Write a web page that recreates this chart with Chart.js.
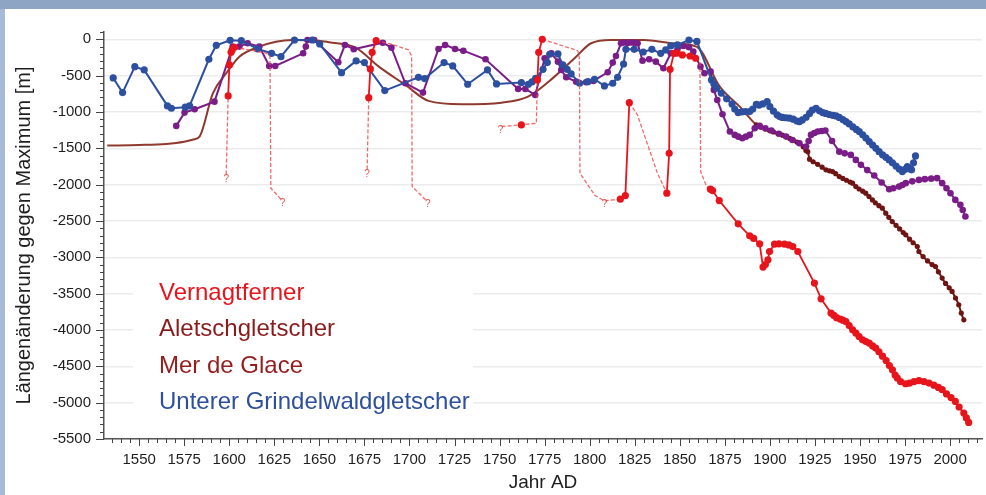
<!DOCTYPE html>
<html>
<head>
<meta charset="utf-8">
<script src="https://cdn.jsdelivr.net/npm/chart.js@4.4.0/dist/chart.umd.min.js"></script>
<style>
html, body { margin: 0; padding: 0; background: #8fa5c4; }
#frame { position: absolute; left: 0; top: 0; width: 986px; height: 495px; overflow: hidden; }
#strip { position: absolute; left: 0; top: 9px; width: 5px; bottom: 0; background: #a9bad8; }
#panel { position: absolute; left: 5px; top: 9px; right: 0; bottom: 0; background: #fff; }
canvas { position: absolute; left: 0; top: 0; }
</style>
</head>
<body>
<div id="frame"><div id="strip"></div><div id="panel"></div><canvas id="chart" width="986" height="495"></canvas></div>
<script>
// Vernagtferner, measured (null = break between advances)
const vernagtYears = [1599.4, 1600.1, 1601.0, 1601.6, 1602.9, null,
  1677.4, 1678.3, 1679.3, 1681.5, null,
  1762.1, null,
  1771.0, 1771.7, 1773.7, null,
  1817.0, 1819.8, 1822.0, null,
  1842.8, 1844.1, 1844.6, 1846.8, 1848.5, 1851.4, 1855.7, 1858.8, null,
  1867.0, 1868.2, 1871.9, 1882.4, 1888.8, 1891.0, 1894.3, 1896.2, 1897.5, 1898.9, 1899.8,
  1902.6, 1905.0, 1908.1, 1910.5, 1912.7, 1915.5, 1924.7, 1928.4, 1933.9, 1935.5, 1937.0,
  1939.0, 1940.5, 1942.2, 1944.0, 1945.9, 1947.7, 1949.5, 1951.4, 1953.3, 1955.1, 1957.0,
  1958.7, 1960.5, 1962.5, 1964.5, 1966.3, 1968.0, 1969.5, 1970.7, 1972.5, 1975.3, 1977.5,
  1980.0, 1982.7, 1985.5, 1988.3, 1991.0, 1993.5, 1995.6, 1998.0, 2000.5, 2002.9, 2005.0,
  2007.6, 2009.0, 2010.3];
const vernagtValues = [-780, -353, -180, -147, -110, null,
  -803, -408, -179, -19, null,
  -1178, null,
  -560, -179, 0, null,
  -2200, -2150, -872, null,
  -2118, -1568, -413, -193, -190, -216, -230, -261, null,
  -2063, -2082, -2219, -2540, -2705, -2740, -2815, -3135, -3100, -3035, -2920,
  -2819, -2815, -2819, -2830, -2852, -2920, -3355, -3571, -3768, -3800, -3830,
  -3850, -3865, -3883, -3940, -3997, -4043, -4090, -4135, -4160, -4180, -4220,
  -4249, -4300, -4360, -4420, -4490, -4547, -4620, -4661, -4710, -4740, -4730,
  -4710, -4698, -4710, -4731, -4760, -4790, -4822, -4880, -4930, -4983, -5060,
  -5143, -5210, -5272];

// Vernagtferner, uncertain course (dashed)
const vernagtGuessYears = [1598.3, 1599.4, null,
  1602.9, 1612.0, 1620.4, 1622.6, 1623.1, 1629.0, null,
  1676.5, 1677.4, null,
  1681.5, 1690.3, 1699.5, 1701.2, 1701.5, 1709.6, null,
  1751.1, 1762.1, 1770.4, 1771.0, null,
  1773.7, 1793.4, 1794.3, 1794.6, 1803.0, 1808.2, 1817.0, null,
  1822.0, 1826.5, 1837.6, 1842.8, null,
  1858.8, 1861.2, 1861.6, 1864.9, 1867.0];
const vernagtGuessValues = [-1860, -780, null,
  -110, -150, -190, -230, -2049, -2209, null,
  -1790, -803, null,
  -19, -69, -147, -230, -2027, -2223, null,
  -1201, -1178, -1155, -560, null,
  0, -157, -260, -1843, -2150, -2223, -2200, null,
  -872, -1041, -1843, -2118, null,
  -261, -300, -1820, -2027, -2063];
const questionYears = [1598.3, 1629.6, 1676.5, 1710.2, 1750.6, 1808.2];
const questionValues = [-1890, -2215, -1815, -2228, -1205, -2228];

// Aletschgletscher
const aletschYears = [1532.3, 1550, 1565, 1575, 1580, 1583.5, 1590.9, 1598.3, 1605.6, 1616.7,
  1625.9, 1635, 1649.8, 1655.3, 1670.1, 1683, 1697.7, 1710.6, 1729, 1751.1, 1765.8, 1780.5,
  1791.6, 1800.8, 1811.8, 1830.3, 1846.5, 1859.3, 1872.2, 1883.3, 1892.5,
  1895, 1897.5, 1899.8, 1902, 1904.5, 1907, 1909, 1911, 1913, 1915, 1916.4, 1918.5, 1920,
  1921, 1922, 1924, 1926.5, 1929, 1931.1, 1933, 1934.8, 1936.5, 1938.5, 1940.5, 1942.5,
  1944.5, 1945.9, 1947.7, 1949.5, 1951.5, 1953.2, 1955, 1956.9, 1958.5, 1960.5, 1962.4,
  1964.3, 1966, 1967.9, 1970, 1972, 1974, 1975.4, 1977.5, 1979.5, 1981.8, 1982.7, 1985,
  1987.5, 1990, 1991.9, 1993.5, 1995.6, 1997.5, 1999.5, 2001.1, 2003, 2004.8, 2006.2, 2007.6];
const aletschValues = [-1463, -1455, -1440, -1410, -1380, -1339, -743, -468, -239, -101,
  -33, -10, -19, -41, -115, -377, -628, -848, -894, -872, -789, -514,
  -261, -55, -10, -10, -55, -101, -652, -927, -1178,
  -1210, -1235, -1256, -1275, -1300, -1320, -1339, -1365, -1390, -1415, -1430, -1480, -1530,
  -1546, -1650, -1685, -1720, -1760, -1797, -1810, -1821, -1850, -1889, -1915, -1940,
  -1965, -1980, -2027, -2060, -2090, -2118, -2165, -2210, -2250, -2290, -2324,
  -2393, -2450, -2508, -2560, -2610, -2660, -2691, -2750, -2800, -2852, -2920, -2990,
  -3050, -3100, -3127, -3200, -3286, -3360, -3420, -3470, -3560, -3653, -3768, -3860];

// Mer de Glace
const merYears = [1570.6, 1575.2, 1580.8, 1591.8, 1601.9, 1605.6, 1610.2, 1616.7, 1622.2, 1625.5,
  1641, 1642.5, 1643.4, 1647.1, 1660.5, 1664.2, 1669.1, 1685.2, 1690, 1697.7, 1707.5, 1716.1,
  1719.8, 1725.3, 1729.9, 1742.2, 1760.3, 1764.3, 1769.8, 1775, 1778.7, 1782.4, 1784.2, 1787,
  1792.5, 1798, 1802.1, 1810, 1812.8, 1814.6, 1817.4, 1819, 1821, 1823, 1825, 1826.6, 1829.3,
  1833, 1836.7, 1840.9, 1845, 1848.7, 1852, 1855.1, 1857.5, 1861.5, 1863.7, 1867.1, 1868.9,
  1870.8, 1873.7, 1877.8, 1880.5, 1882.5, 1884.7, 1886.7, 1888.8, 1891.6, 1894.3, 1897.5,
  1900.8, 1905, 1909, 1912.5, 1916.4, 1920.1, 1921.5, 1922.8, 1924.7, 1926.6, 1928.7, 1930.8,
  1934.5, 1938.5, 1941.5, 1944.9, 1947.7, 1950.5, 1954, 1957.9, 1962, 1966.2, 1968.5, 1971.7,
  1973.5, 1975.4, 1979, 1982.7, 1986, 1989.5, 1992.8, 1995.6, 1998, 2000.2, 2002.9, 2005.7,
  2007, 2008.5];
const merValues = [-1192, -1009, -963, -858, -101, -101, -55, -101, -367, -367,
  -193, -101, -10, -10, -316, -78, -138, -47, -115, -605, -734, -133,
  -78, -133, -157, -275, -683, -683, -766, -261, -193, -308, -422, -523,
  -583, -591, -573, -454, -321, -230, -55, -45, -50, -45, -50, -55, -294,
  -275, -308, -399, -193, -138, -92, -110, -170, -377, -468, -445, -697,
  -835, -1031, -1270, -1316, -1340, -1361, -1340, -1316, -1224, -1192, -1225,
  -1256, -1300, -1339, -1385, -1430, -1476, -1400, -1316, -1290, -1270, -1262, -1256,
  -1400, -1546, -1570, -1591, -1660, -1728, -1800, -1875, -1970, -2063, -2050, -2027,
  -2005, -1980, -1955, -1935, -1925, -1918, -1911, -1980, -2050, -2118, -2210, -2278,
  -2350, -2439];

// Unterer Grindelwaldgletscher
const grindelwaldYears = [1535.6, 1540.8, 1547.6, 1552.8, 1565.7, 1567.9, 1575.6, 1578, 1588.7,
  1592.8, 1600.5, 1606.7, 1615.7, 1623.5, 1628.7, 1636.2, 1646.1, 1650.2, 1662.3, 1670.4, 1675,
  1686.3, 1705, 1708.4, 1719.2, 1724, 1732.3, 1743.3, 1748.3, 1762.1, 1766, 1768, 1770, 1774.1,
  1776.5, 1777.8, 1782.4, 1785.1, 1787.5, 1789.7, 1794.4, 1799, 1802.7, 1808.2, 1812.8, 1815.5,
  1818.8, 1820.1, 1824.7, 1829.7, 1834.5, 1839.4, 1842.2, 1845, 1848.7, 1855.1, 1859.5,
  1867.6, 1869, 1870.4, 1873, 1876, 1879, 1880.5, 1882.4, 1884.5, 1886.5, 1888.8, 1890.5,
  1892.5, 1894, 1896, 1898.5, 1900, 1902, 1904, 1905.4, 1907, 1909, 1910.9, 1913, 1915,
  1916.4, 1918, 1920.1, 1922, 1923.5, 1925.6, 1927.5, 1929.3, 1931, 1933, 1935, 1936.7,
  1938.5, 1940.5, 1942.2, 1944, 1946, 1948, 1949.6, 1951.5, 1953.3, 1955.1, 1957, 1958.8,
  1960.6, 1962.5, 1964.4, 1966.2, 1968, 1970, 1971.8, 1973.5, 1975, 1976.3, 1977.5, 1978.6,
  1979.7, 1980.8];
const grindelwaldValues = [-532, -734, -377, -422, -917, -949, -935, -917, -275,
  -83, -14, -19, -133, -193, -239, -10, -10, -65, -459, -298, -321,
  -706, -523, -541, -321, -367, -619, -422, -614, -596, -619, -587, -537, -413,
  -321, -206, -202, -353, -413, -477, -605, -583, -550, -642, -605, -523,
  -340, -138, -138, -175, -138, -193, -147, -92, -78, -10, -30,
  -560, -620, -674, -740, -820, -890, -960, -1009, -1000, -995, -995, -960,
  -894, -905, -890, -858, -927, -990, -1040, -1064, -1075, -1080, -1086, -1100, -1125,
  -1133, -1110, -1073, -1020, -975, -949, -985, -1009, -1020, -1035, -1048, -1055,
  -1075, -1105, -1133, -1165, -1205, -1240, -1270, -1315, -1360, -1408, -1455, -1500,
  -1546, -1590, -1625, -1660, -1700, -1745, -1785, -1821, -1790, -1752, -1780, -1797,
  -1700, -1605];

const legendLabels = ["Vernagtferner", "Aletschgletscher", "Mer de Glace", "Unterer Grindelwaldgletscher"];
const legendColors = ["#e8141c", "#8b1a1a", "#951c1c", "#2d4f9f"];
const xTicks = [1550, 1575, 1600, 1625, 1650, 1675, 1700, 1725, 1750, 1775, 1800, 1825, 1850, 1875, 1900, 1925, 1950, 1975, 2000];
const yTicks = [0, -500, -1000, -1500, -2000, -2500, -3000, -3500, -4000, -4500, -5000, -5500];

function pairs(xs, ys) {
    return xs.map((x, i) => ({ x: x === null ? xs[i - 1] : x, y: ys[i] }));
}

const glacierDecor = {
    id: "glacierDecor",
    beforeDatasetsDraw(chart) {
        // white box behind the legend hides the grid lines
        const c = chart.ctx;
        c.save();
        c.fillStyle = "#fff";
        c.fillRect(133, 270, 340, 148);
        c.restore();
    },
    afterDatasetsDraw(chart) {
        const c = chart.ctx;
        const xs = chart.scales.x, ys = chart.scales.y;
        const area = chart.chartArea;
        c.save();
        // question marks at the ends of uncertain sections
        c.fillStyle = "rgba(236,60,60,0.9)";
        c.font = "10px 'Liberation Sans', Arial";
        c.textAlign = "center";
        c.textBaseline = "middle";
        questionYears.forEach((yr, i) => {
            c.fillText("?", xs.getPixelForValue(yr), ys.getPixelForValue(questionValues[i]) + 3);
        });
        // major and minor tick marks
        c.strokeStyle = "#444";
        c.lineWidth = 1;
        c.beginPath();
        for (let v = -5500; v <= 100; v += 100) {
            const py = Math.round(ys.getPixelForValue(v)) + 0.5;
            const len = v % 500 === 0 ? 8 : 4;
            c.moveTo(area.left - len, py);
            c.lineTo(area.left, py);
        }
        for (let yr = 1535; yr <= 2015; yr += 5) {
            const px = Math.round(xs.getPixelForValue(yr)) + 0.5;
            const len = yr % 25 === 0 ? 7 : 4;
            c.moveTo(px, area.bottom);
            c.lineTo(px, area.bottom + len);
        }
        c.stroke();
        // legend
        c.font = "24px 'Liberation Sans', Arial";
        c.textAlign = "left";
        c.textBaseline = "alphabetic";
        legendLabels.forEach((t, i) => {
            c.fillStyle = legendColors[i];
            c.fillText(t, 159, 300 + i * 36.3);
        });
        c.restore();
    },
};

Chart.defaults.font.family = "'Liberation Sans', Arial, sans-serif";

const config = {
    type: "line",
    data: {
        datasets: [
            {
                label: legendLabels[0],
                data: pairs(vernagtYears, vernagtValues),
                borderColor: "#e8141c",
                backgroundColor: "#e8141c",
                borderWidth: 1.8,
                pointRadius: 3.6,
                pointBorderWidth: 0,
                spanGaps: false,
                order: 0,
            },
            {
                label: "Vernagtferner (unsicher)",
                data: pairs(vernagtGuessYears, vernagtGuessValues),
                borderColor: "rgba(238,70,70,0.8)",
                borderWidth: 1.3,
                borderDash: [4, 2],
                pointRadius: 0,
                spanGaps: false,
                order: 1,
            },
            {
                label: legendLabels[3],
                data: pairs(grindelwaldYears, grindelwaldValues),
                borderColor: "#2d4f9f",
                backgroundColor: "#2d4f9f",
                borderWidth: 2,
                pointRadius: 3.6,
                pointBorderWidth: 0,
                order: 2,
            },
            {
                label: legendLabels[2],
                data: pairs(merYears, merValues),
                borderColor: "#7b1d88",
                backgroundColor: "#7b1d88",
                borderWidth: 2,
                pointRadius: 3.3,
                pointBorderWidth: 0,
                order: 3,
            },
            {
                label: legendLabels[1],
                data: pairs(aletschYears, aletschValues),
                borderColor: "#701313",
                backgroundColor: "#701313",
                borderWidth: 2,
                cubicInterpolationMode: "monotone",
                pointRadius: (ctx) => (ctx.raw && ctx.raw.x > 1892 ? 2.6 : 0),
                pointBorderWidth: 0,
                segment: {
                    borderColor: (ctx) => (ctx.p1.parsed.x <= 1893 ? "#8e3a2e" : "#701313"),
                },
                order: 4,
            },
        ],
    },
    options: {
        responsive: false,
        animation: false,
        layout: { padding: { top: 32, left: 0, right: 0, bottom: 0 } },
        scales: {
            x: {
                type: "linear",
                min: 1530.5,
                max: 2017.7,
                afterBuildTicks: (s) => { s.ticks = xTicks.map((v) => ({ value: v })); },
                afterFit: (s) => { s.height = 56; },
                grid: { display: false, drawTicks: false },
                border: { display: true, color: "#555", width: 1.5 },
                ticks: {
                    padding: 12,
                    color: "#1e1e1e",
                    font: { size: 15 },
                    maxRotation: 0,
                    autoSkip: false,
                    callback: (v) => String(v),
                },
                title: {
                    display: true,
                    text: "Jahr AD",
                    color: "#1e1e1e",
                    font: { size: 19 },
                    padding: { top: 0, bottom: 1 },
                },
            },
            y: {
                min: -5500,
                max: 100,
                afterBuildTicks: (s) => { s.ticks = yTicks.map((v) => ({ value: v })); },
                afterFit: (s) => { s.width = 104; },
                grid: { color: "#ececec", lineWidth: 1.5, drawTicks: false },
                border: { display: true, color: "#555", width: 1.5 },
                ticks: {
                    padding: 13,
                    color: "#1e1e1e",
                    font: { size: 15 },
                    callback: (v) => String(v),
                },
                title: {
                    display: true,
                    text: "Längenänderung gegen Maximum [m]",
                    color: "#1e1e1e",
                    font: { size: 20 },
                    padding: { top: 12, bottom: 0 },
                },
            },
        },
        plugins: {
            legend: { display: false },
            tooltip: { enabled: false },
        },
    },
    plugins: [glacierDecor],
};

const chart = new Chart(document.getElementById("chart"), config);
</script>
</body>
</html>
